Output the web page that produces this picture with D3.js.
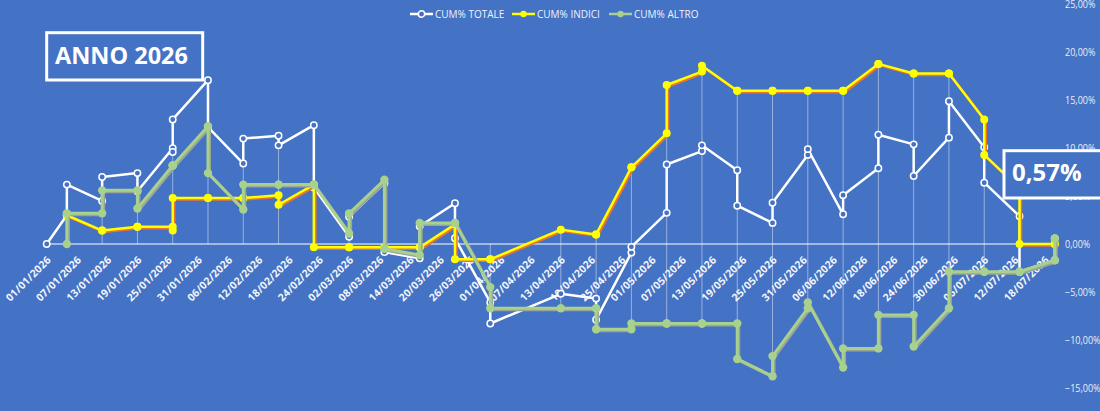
<!DOCTYPE html>
<html>
<head>
<meta charset="utf-8">
<script src="https://cdn.jsdelivr.net/npm/d3@7"></script>
<style>
  body { margin: 0; background: #4472C4; }
  svg { display: block; font-family: "Open Sans", sans-serif; }
</style>
</head>
<body>
<div id="chart"></div>
<script>
// one row per entry, some dates appear twice (start / end of week)
const rowDates = [
  '01/01/2026', '05/01/2026', '05/01/2026', '12/01/2026', '12/01/2026',
  '19/01/2026', '19/01/2026', '26/01/2026', '26/01/2026', '26/01/2026',
  '02/02/2026', '02/02/2026', '09/02/2026', '09/02/2026', '16/02/2026',
  '16/02/2026', '23/02/2026', '23/02/2026', '02/03/2026', '02/03/2026',
  '09/03/2026', '09/03/2026', '16/03/2026', '16/03/2026', '23/03/2026',
  '23/03/2026', '30/03/2026', '30/03/2026', '13/04/2026', '20/04/2026',
  '20/04/2026', '27/04/2026', '27/04/2026', '04/05/2026', '04/05/2026',
  '11/05/2026', '11/05/2026', '18/05/2026', '18/05/2026', '25/05/2026',
  '25/05/2026', '01/06/2026', '01/06/2026', '08/06/2026', '08/06/2026',
  '15/06/2026', '15/06/2026', '22/06/2026', '22/06/2026', '29/06/2026',
  '29/06/2026', '06/07/2026', '06/07/2026', '13/07/2026', '13/07/2026',
  '20/07/2026', '20/07/2026'
];

const cumTotale = [
  0, 3.0, 6.2, 4.5, 7.0,
  7.4, 5.5, 10.0, 9.6, 13.0,
  17.1, 12.2, 8.4, 11.0, 11.3,
  10.3, 12.4, 5.9, 0.75, 2.85,
  6.35, -0.85, -1.5, 1.85, 4.25,
  0.6, -6.1, -8.3, -5.2, -5.7,
  -7.9, -0.9, -0.3, 3.25, 8.3,
  9.7, 10.3, 7.7, 4.0, 2.2,
  4.3, 9.3, 9.9, 3.1, 5.1,
  7.9, 11.4, 10.4, 7.1, 11.1,
  14.9, 10.1, 6.4, 2.9, -2.9,
  -1.7, 0.57
];

const cumIndici = [
  null, 3.0, 3.0, 1.4, 1.4,
  1.8, 1.8, 1.8, 1.4, 4.8,
  4.8, 4.8, 4.8, 4.8, 5.1,
  4.1, 6.2, -0.35, -0.35, -0.35,
  -0.35, -0.35, -0.35, -0.35, 2.05,
  -1.6, -1.6, -1.6, 1.5, 1.0,
  1.0, 8.0, 8.0, 11.55, 16.6,
  18.0, 18.6, 16.0, 16.0, 16.0,
  16.0, 16.0, 16.0, 16.0, 16.0,
  18.8, 18.8, 17.8, 17.8, 17.8,
  17.8, 13.0, 9.3, 5.8, 0,
  0, 0
];

const cumAltro = [
  null, 0, 3.2, 3.2, 5.6,
  5.6, 3.7, 8.2, 8.2, 8.2,
  12.3, 7.4, 3.6, 6.2, 6.2,
  6.2, 6.2, 6.2, 1.1, 3.2,
  6.7, -0.5, -1.15, 2.2, 2.2,
  2.2, -4.5, -6.7, -6.7, -6.7,
  -8.9, -8.9, -8.3, -8.3, -8.3,
  -8.3, -8.3, -8.3, -12.0, -13.8,
  -11.7, -6.7, -6.1, -12.9, -10.9,
  -10.9, -7.4, -7.4, -10.7, -6.7,
  -2.9, -2.9, -2.9, -2.9, -2.9,
  -1.7, 0.57
];

const tickLabels = [
  '01/01/2026', '07/01/2026', '13/01/2026', '19/01/2026', '25/01/2026',
  '31/01/2026', '06/02/2026', '12/02/2026', '18/02/2026', '24/02/2026',
  '02/03/2026', '08/03/2026', '14/03/2026', '20/03/2026', '26/03/2026',
  '01/04/2026', '07/04/2026', '13/04/2026', '19/04/2026', '25/04/2026',
  '01/05/2026', '07/05/2026', '13/05/2026', '19/05/2026', '25/05/2026',
  '31/05/2026', '06/06/2026', '12/06/2026', '18/06/2026', '24/06/2026',
  '30/06/2026', '06/07/2026', '12/07/2026', '18/07/2026'
];

const yTicks = [25, 20, 15, 10, 5, 0, -5, -10, -15];

const parseDate = d3.timeParse('%d/%m/%Y');
const fmtPct = (v) => d3.format('.2f')(v).replace('.', ',') + '%';

const rows = rowDates.map((d, i) => ({
  date: parseDate(d),
  totale: cumTotale[i],
  indici: cumIndici[i],
  altro: cumAltro[i],
}));

const width = 1100;
const height = 411;

const svg = d3.select('#chart').append('svg')
  .attr('width', width)
  .attr('height', height);

svg.append('rect')
  .attr('width', width).attr('height', height)
  .attr('fill', '#4472C4');

const xScale = d3.scaleTime()
  .domain([parseDate('01/01/2026'), parseDate('20/07/2026')])
  .range([46.7, 1054.8]);

const yScale = d3.scaleLinear()
  .domain([-15, 25])
  .range([387.7, 4.5]);

// drop lines (from highest to lowest value of each date)
const byDate = d3.groups(rows, (d) => +d.date);
const rowVals = (rs) => rs.flatMap((r) => [r.totale, r.indici, r.altro]).filter((v) => v != null);

svg.append('g')
  .selectAll('line')
  .data(byDate)
  .join('line')
  .attr('x1', ([k]) => xScale(new Date(k)))
  .attr('x2', ([k]) => xScale(new Date(k)))
  .attr('y1', ([, rs]) => yScale(Math.max(0, d3.max(rowVals(rs)))))
  .attr('y2', ([, rs]) => yScale(Math.min(0, d3.min(rowVals(rs)))))
  .attr('stroke', 'rgba(255,255,255,0.45)')
  .attr('stroke-width', 1);

// category axis at 0
svg.append('line')
  .attr('x1', xScale.range()[0]).attr('x2', xScale.range()[1])
  .attr('y1', yScale(0)).attr('y2', yScale(0))
  .attr('stroke', '#ffffff')
  .attr('stroke-width', 1.2);

// x tick labels, rotated
svg.append('g')
  .selectAll('text')
  .data(tickLabels)
  .join('text')
  .attr('transform', (d) => `translate(${xScale(parseDate(d)) + 5},${yScale(0) + 16.5}) rotate(-45)`)
  .attr('text-anchor', 'end')
  .attr('fill', '#f2f5fb')
  .attr('font-size', 10.5)
  .attr('font-weight', 'bold')
  .attr('letter-spacing', 0.2)
  .text((d) => d);

// right axis labels (slightly condensed, like the narrow original font)
svg.append('g')
  .selectAll('text')
  .data(yTicks)
  .join('text')
  .attr('transform', (d) => `translate(1065,${yScale(d) + 3.8}) scale(0.86,1)`)
  .attr('fill', '#e8eef8')
  .attr('font-size', 10.5)
  .text((d) => fmtPct(d));

function drawSeries(key, opt) {
  const pts = rows.filter((r) => r[key] != null);
  const line = d3.line()
    .x((d) => xScale(d.date))
    .y((d) => yScale(d[key]));
  const g = svg.append('g');
  if (opt.shadow) {
    g.append('path')
      .datum(pts)
      .attr('d', line)
      .attr('transform', 'translate(1.5,1.5)')
      .attr('fill', 'none')
      .attr('stroke', opt.shadow)
      .attr('stroke-width', opt.width)
      .attr('stroke-linejoin', 'round');
  }
  g.append('path')
    .datum(pts)
    .attr('d', line)
    .attr('fill', 'none')
    .attr('stroke', opt.color)
    .attr('stroke-width', opt.width)
    .attr('stroke-linejoin', 'round');
  g.selectAll('circle')
    .data(pts)
    .join('circle')
    .attr('cx', (d) => xScale(d.date))
    .attr('cy', (d) => yScale(d[key]))
    .attr('r', opt.r)
    .attr('fill', opt.hollow ? '#4472C4' : opt.color)
    .attr('stroke', opt.hollow ? opt.color : 'none')
    .attr('stroke-width', 1.5);
}

drawSeries('totale', { color: '#ffffff', width: 2.5, r: 3.2, hollow: true });
drawSeries('indici', { color: '#ffff00', width: 2.5, r: 4, shadow: '#e8752c' });
drawSeries('altro', { color: '#a9d18e', width: 3, r: 4.2, shadow: '#9aa596' });

// legend
const legendItems = [
  { label: 'CUM% TOTALE', color: '#ffffff', hollow: true, x: 410 },
  { label: 'CUM% INDICI', color: '#ffff00', hollow: false, x: 512 },
  { label: 'CUM% ALTRO', color: '#a9d18e', hollow: false, x: 609 },
];
const legend = svg.append('g').selectAll('g')
  .data(legendItems)
  .join('g')
  .attr('transform', (d) => `translate(${d.x},14)`);
legend.append('line')
  .attr('x1', 0).attr('x2', 23)
  .attr('stroke', (d) => d.color)
  .attr('stroke-width', 2.5);
legend.append('circle')
  .attr('cx', 11.5).attr('r', 3.2)
  .attr('fill', (d) => d.hollow ? '#4472C4' : d.color)
  .attr('stroke', (d) => d.hollow ? d.color : 'none')
  .attr('stroke-width', 1.5);
legend.append('text')
  .attr('x', 25).attr('y', 3.5)
  .attr('fill', '#eef2fa')
  .attr('font-size', 10)
  .text((d) => d.label);

// title box
svg.append('rect')
  .attr('x', 46.7).attr('y', 32.7)
  .attr('width', 156).attr('height', 47.3)
  .attr('fill', 'none')
  .attr('stroke', '#ffffff')
  .attr('stroke-width', 3);
svg.append('text')
  .attr('x', 55).attr('y', 63.5)
  .attr('fill', '#ffffff')
  .attr('font-size', 23.5)
  .attr('font-weight', 'bold')
  .text('ANNO 2026');

// final value box
svg.append('rect')
  .attr('x', 1004).attr('y', 150.7)
  .attr('width', 110).attr('height', 47.3)
  .attr('fill', '#4472C4')
  .attr('stroke', '#ffffff')
  .attr('stroke-width', 3);
svg.append('text')
  .attr('x', 1012).attr('y', 180.5)
  .attr('fill', '#ffffff')
  .attr('font-size', 24)
  .attr('font-weight', 'bold')
  .text(fmtPct(cumTotale[cumTotale.length - 1]));
</script>
</body>
</html>
